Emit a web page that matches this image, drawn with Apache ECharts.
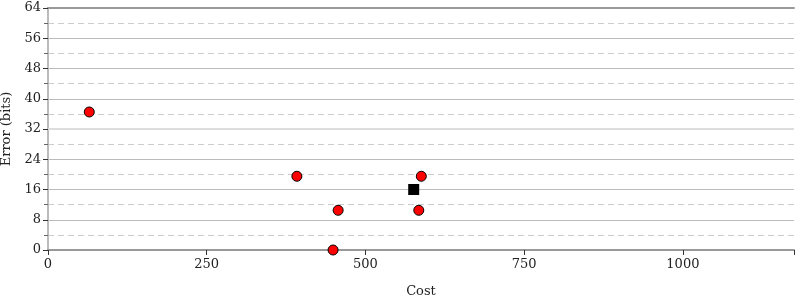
<!DOCTYPE html>
<html><head><meta charset="utf-8">
<script src="https://cdn.jsdelivr.net/npm/echarts@6/dist/echarts.min.js"></script>
<style>html,body{margin:0;padding:0;background:#fff}#c{width:800px;height:300px}</style>
</head><body><div id="c"></div>
<script>
const costs = [65, 392, 457, 449, 588, 584];
const errors = [36.5, 19.5, 10.5, 0, 19.5, 10.5];
const markCost = [576];
const markError = [16];
const refLine = [32];
const xTicks = [0, 250, 500, 750, 1000];
const yTicks = [0, 8, 16, 24, 32, 40, 48, 56, 64];

const font = 'DejaVu Serif';
const chart = echarts.init(document.getElementById('c'), null, {renderer: 'canvas'});
const yBase = {
  type: 'value', min: 0, max: 64, interval: 8,
  axisLine: {show: true, lineStyle: {color: '#bbb', width: 2}},
  minorTick: {show: true, splitNumber: 2, length: 4, lineStyle: {color: '#666'}},
  axisTick: {show: true, length: 5, lineStyle: {color: '#333'}},
};
chart.setOption({
  animation: false,
  grid: {left: 48, right: 6, top: 8, bottom: 50, containLabel: false, outerBoundsMode: 'none'},
  xAxis: [{
    type: 'value', min: 0, max: 1175, interval: 250, position: 'bottom',
    name: 'Cost', nameLocation: 'middle', nameGap: 35,
    nameTextStyle: {fontFamily: font, fontSize: 13, color: '#222'},
    axisLine: {show: true, onZero: false, lineStyle: {color: '#999', width: 2}},
    axisTick: {show: true, length: 5, lineStyle: {color: '#333'}},
    axisLabel: {fontFamily: font, fontSize: 13, color: '#222', margin: 8,
      formatter: v => xTicks.includes(v) ? String(v) : ''},
    splitLine: {show: false}
  }, {
    type: 'value', min: 0, max: 1175, position: 'top',
    axisLine: {show: true, onZero: false, lineStyle: {color: '#999', width: 2}},
    axisTick: {show: false}, axisLabel: {show: false}, splitLine: {show: false}
  }],
  yAxis: [Object.assign({}, yBase, {
    position: 'left',
    name: 'Error (bits)', nameLocation: 'middle', nameGap: 34,
    nameTextStyle: {fontFamily: font, fontSize: 13, color: '#222'},
    axisLabel: {fontFamily: font, fontSize: 13, color: '#222', margin: 7,
      formatter: v => yTicks.includes(v) ? String(v) : ''},
    splitLine: {show: true, lineStyle: {color: '#bbb', width: 1}},
    minorSplitLine: {show: true, lineStyle: {color: '#ccc', width: 1, type: [6, 4]}}
  }), Object.assign({}, yBase, {
    position: 'right',
    axisTick: {show: true, inside: true, length: 5, lineStyle: {color: '#333'}},
    minorTick: {show: true, splitNumber: 2, length: 4, lineStyle: {color: '#666'}},
    axisLabel: {show: false},
    splitLine: {show: false}
  })],
  series: [{
    type: 'scatter', xAxisIndex: 0, yAxisIndex: 0,
    data: costs.map((c, i) => [c, errors[i]]),
    symbol: 'circle', symbolSize: 10,
    itemStyle: {color: '#ff0000', borderColor: '#000', borderWidth: 1, opacity: 1},
    markLine: {
      silent: true, symbol: 'none', label: {show: false},
      lineStyle: {color: '#ddd', width: 2, type: 'solid'},
      data: refLine.map(v => ({yAxis: v}))
    },
    z: 3
  }, {
    type: 'scatter', xAxisIndex: 0, yAxisIndex: 0,
    data: markCost.map((c, i) => [c, markError[i]]),
    symbol: 'rect', symbolSize: 11,
    itemStyle: {color: '#000', opacity: 1},
    z: 4
  }]
});
</script></body></html>
